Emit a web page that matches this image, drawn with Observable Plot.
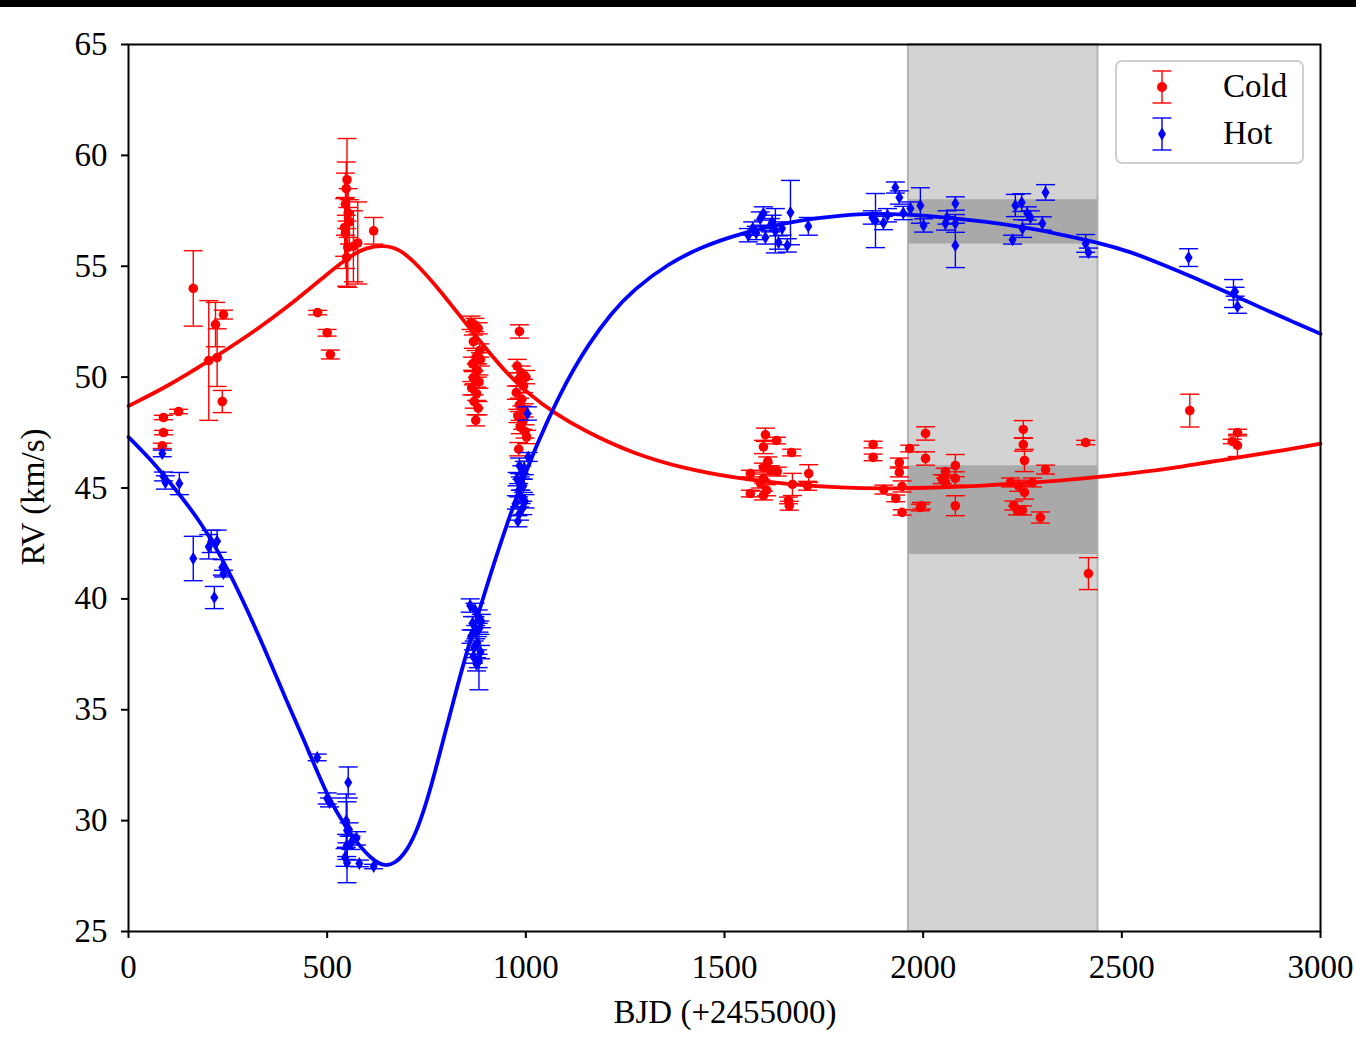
<!DOCTYPE html>
<html>
<head>
<meta charset="utf-8">
<script src="https://cdn.jsdelivr.net/npm/d3@7"></script>
<script src="https://cdn.jsdelivr.net/npm/@observablehq/plot@0.6"></script>
<style>
  html, body { margin: 0; padding: 0; background: #fff; }
  #wrap { position: relative; width: 1356px; height: 1053px; overflow: hidden; font-family: "Liberation Serif", serif; }
  #topbar { position: absolute; left: 0; top: 0; width: 1356px; height: 7px; background: #000; }
  .atitle { position: absolute; font-size: 33px; color: #000; white-space: nowrap; }
  #xtitle { left: 725px; top: 1012px; transform: translate(-50%, -50%); }
  #ytitle { left: 33px; top: 497px; transform: translate(-50%, -50%) rotate(-90deg); }
  #legend { position: absolute; left: 1115px; top: 60px; width: 185px; height: 100px;
            border: 2px solid #cfcfcf; border-radius: 7px; background: rgba(255,255,255,0.85); }
  #legend .lab { position: absolute; left: 106px; font-size: 33px; line-height: 33px; }
</style>
</head>
<body>
<div id="wrap">
  <div id="chart"></div>
  <div id="topbar"></div>
  <div class="atitle" id="xtitle">BJD (+2455000)</div>
  <div class="atitle" id="ytitle">RV (km/s)</div>
  <div id="legend">
    <svg width="185" height="100" style="position:absolute;left:0;top:0">
      <g stroke="#ff0000" stroke-width="1.4">
        <line x1="45" x2="45" y1="9" y2="41"/>
        <line x1="35.5" x2="54.5" y1="9" y2="9"/>
        <line x1="35.5" x2="54.5" y1="41" y2="41"/>
      </g>
      <circle cx="45" cy="25" r="5" fill="#ff0000"/>
      <g stroke="#0000ff" stroke-width="1.4">
        <line x1="45" x2="45" y1="56" y2="88"/>
        <line x1="35.5" x2="54.5" y1="56" y2="56"/>
        <line x1="35.5" x2="54.5" y1="88" y2="88"/>
      </g>
      <path d="M45,65.5L49,72L45,78.5L41,72Z" fill="#0000ff"/>
    </svg>
    <div class="lab" style="top:8px">Cold</div>
    <div class="lab" style="top:55px">Hot</div>
  </div>
</div>
<script>
// Radial-velocity measurements: BJD - 2455000, RV (km/s), 1-sigma error
const coldBjd = [85,88,88,126,163,202,219,223,239,236,
  476,500,508,
  550,548,546,553,556,544,546,552,549,577,566,617,
  862,872,880,868,884,875,866,878,870,882,864,876,870,880,874,886,868,
  984,978,988,982,994,976,990,984,996,980,992,986,998,982,1000,1002,
  1603,1598,1631,1669,1565,1598,1616,1633,1598,1591,1565,1598,1661,1663,1671,1712,1709,1606,1609,
  1874,1874,1901,1931,1947,1940,1940,1966,1947,1993,1996,2006,2006,2056,2056,2081,2081,2081,
  2252,2252,2255,2220,2255,2275,2228,2237,2250,2308,2295,2409,2416,2048,2240,
  2671,2791,2778,2791];
const coldRv = [46.9,47.5,48.18,48.45,54.0,50.75,52.37,50.88,52.82,48.9,
  52.91,52.0,51.02,
  58.9,58.5,57.8,57.4,57.0,56.75,56.5,55.85,55.4,56.05,55.9,56.6,
  52.45,52.35,52.2,51.6,51.2,50.9,50.6,50.3,50.0,49.8,49.5,49.25,48.9,48.6,48.05,50.8,49.95,
  52.06,50.5,50.2,49.9,49.6,49.3,49.0,48.75,48.5,48.25,48.0,47.75,47.55,46.75,50.0,47.3,
  47.4,46.85,47.14,46.6,45.65,45.92,45.8,45.74,45.43,45.2,44.75,44.66,44.44,44.2,45.16,45.65,45.1,44.9,46.2,
  46.96,46.38,44.93,44.53,43.9,46.15,45.7,46.78,45.07,44.12,44.2,47.46,46.33,45.74,45.25,46.01,45.43,44.2,
  47.64,46.96,46.24,45.25,44.8,45.25,44.21,43.99,43.99,45.83,43.67,47.05,41.14,45.4,45.1,
  48.49,47.5,47.1,46.92];
const coldErr = [0.12,0.1,0.1,0.1,1.7,2.7,1.0,1.3,0.2,0.5,
  0.1,0.15,0.2,
  1.86,1.2,1.4,1.1,1.0,1.3,1.6,1.8,1.3,1.85,1.6,0.6,
  0.3,0.3,0.25,0.3,0.3,0.3,0.3,0.3,0.3,0.3,0.3,0.3,0.3,0.3,0.25,0.3,0.3,
  0.3,0.3,0.3,0.3,0.3,0.3,0.3,0.3,0.3,0.3,0.35,0.3,0.3,0.3,0.3,0.3,
  0.3,0.3,0.15,0.15,0.15,0.2,0.2,0.2,0.2,0.2,0.15,0.2,0.15,0.2,0.5,0.4,0.2,0.25,0.2,
  0.15,0.15,0.2,0.15,0.12,0.2,0.2,0.15,0.25,0.15,0.15,0.3,0.3,0.15,0.2,0.5,0.3,0.45,
  0.4,0.3,0.5,0.2,0.3,0.2,0.2,0.2,0.2,0.2,0.25,0.1,0.72,0.2,0.25,
  0.74,0.15,0.1,0.5];

const hotBjd = [85,88,93,128,163,202,208,223,216,236,239,
  475,500,506,553,548,550,574,549,545,550,581,617,560,555,
  860,872,880,866,884,874,862,878,870,886,868,880,876,882,888,
  984,990,978,994,982,988,976,992,984,980,996,1004,1006,986,998,
  1571,1590,1598,1603,1628,1636,1658,1666,1711,1616,1580,1560,1620,1645,
  1880,1872,1930,1940,1968,1993,2001,2056,2060,2081,2081,2081,1910,1950,1900,
  2232,2248,2262,2250,2225,2308,2300,2270,2409,2416,
  2668,2781,2791,2785];
const hotRv = [46.56,45.52,45.25,45.2,41.82,42.35,42.59,42.6,40.06,41.42,41.14,
  32.85,31.0,30.82,31.72,30.0,29.55,29.2,28.88,28.34,28.1,28.07,27.93,29.0,29.6,
  39.7,39.5,39.2,38.9,38.7,38.5,38.3,38.0,37.8,37.6,37.4,37.2,37.05,37.2,39.0,
  46.0,45.7,45.4,45.1,44.9,44.6,44.35,44.1,43.85,43.5,45.9,48.36,46.4,45.2,44.4,
  56.7,57.15,57.38,56.3,56.6,56.07,55.94,57.42,56.8,56.85,56.5,56.4,57.0,56.7,
  57.06,57.2,58.55,58.1,57.6,57.74,56.84,56.93,57.2,57.83,56.93,55.94,57.3,57.4,56.95,
  57.74,57.87,57.38,56.7,56.2,58.33,56.93,57.2,56.03,55.62,
  55.39,53.77,53.18,53.85];
const hotErr = [0.15,0.2,0.3,0.5,1.0,0.55,0.5,0.5,0.5,0.35,0.15,
  0.15,0.25,0.2,0.7,1.2,1.3,0.3,0.5,0.4,0.9,0.15,0.1,0.3,0.3,
  0.3,0.3,0.3,0.3,0.3,0.3,0.3,0.3,0.3,0.3,0.3,0.3,0.3,1.3,0.3,
  0.35,0.3,0.3,0.3,0.3,0.3,0.3,0.3,0.3,0.25,0.3,0.3,0.2,0.3,0.3,
  0.3,0.3,0.3,0.3,1.0,0.3,0.3,1.45,0.4,0.3,0.3,0.3,0.3,0.3,
  1.22,0.3,0.25,0.3,0.3,0.8,0.3,0.3,0.3,0.3,0.4,1.0,0.3,0.3,0.3,
  0.5,0.4,0.3,0.4,0.2,0.35,0.3,0.3,0.4,0.2,
  0.4,0.63,0.3,0.2];

// Orbital solutions for the two components
const coldFitBjd = [0,100,200,300,400,500,560,600,640,680,720,780,830,890,950,1010,1070,1150,1270,1400,1520,1650,1800,1900,2000,2150,2300,2400,2520,2650,2780,2900,3000];
const coldFitRv  = [48.7,49.6,50.7,51.85,53.15,54.65,55.5,55.85,55.95,55.8,55.2,54.0,52.85,51.5,50.2,49.2,48.4,47.55,46.55,45.87,45.47,45.18,45.0,44.97,45.0,45.1,45.27,45.42,45.65,45.95,46.35,46.68,47.0];
const hotFitBjd = [0,50,100,180,250,330,400,450,500,550,580,610,642,670,700,730,760,790,818,843,893,954,1012,1050,1087,1120,1155,1213,1271,1357,1440,1520,1600,1700,1800,1870,1950,2070,2160,2240,2330,2446,2522,2600,2680,2781,2866,2930,3000];
const hotFitRv  = [47.3,46.4,45.35,43.55,41.4,38.3,35.3,33.3,31.1,29.6,28.9,28.3,27.93,28.05,28.6,29.7,31.4,33.5,35.4,37.1,40.1,43.5,46.3,47.85,49.25,50.35,51.4,52.85,53.95,55.1,55.85,56.35,56.75,57.1,57.3,57.38,57.35,57.18,57.0,56.8,56.5,56.05,55.65,55.1,54.5,53.7,53.0,52.5,51.95];

// Highlighted interval and the RV windows inside it
const bandBjd = [1963, 2440];
const hotWindow = [56, 58];
const coldWindow = [42, 46];

const xTicks = [0, 500, 1000, 1500, 2000, 2500, 3000];
const yTicks = [25, 30, 35, 40, 45, 50, 55, 60, 65];

const RED = "#ff0000", BLUE = "#0000ff";

const cold = coldBjd.map((x, i) => ({bjd: x, rv: coldRv[i], err: coldErr[i]}));
const hot = hotBjd.map((x, i) => ({bjd: x, rv: hotRv[i], err: hotErr[i]}));
const coldFit = coldFitBjd.map((x, i) => ({bjd: x, rv: coldFitRv[i]}));
const hotFit = hotFitBjd.map((x, i) => ({bjd: x, rv: hotFitRv[i]}));
const windows = [
  {x1: bandBjd[0], x2: bandBjd[1], y1: hotWindow[0], y2: hotWindow[1]},
  {x1: bandBjd[0], x2: bandBjd[1], y1: coldWindow[0], y2: coldWindow[1]}
];

// Horizontal cap for error bars (half-width equals r)
const capSymbol = {
  draw(ctx, size) {
    const w = Math.sqrt(size / Math.PI);
    ctx.moveTo(-w, 0); ctx.lineTo(w, 0);
  }
};
// Thin diamond marker
const thinDiamond = {
  draw(ctx, size) {
    const r = Math.sqrt(size / Math.PI);
    ctx.moveTo(0, -r); ctx.lineTo(r * 0.62, 0); ctx.lineTo(0, r); ctx.lineTo(-r * 0.62, 0); ctx.closePath();
  }
};

function errorMarks(data, color) {
  return [
    Plot.ruleX(data, {x: "bjd", y1: d => d.rv - d.err, y2: d => d.rv + d.err, stroke: color, strokeWidth: 1.4}),
    Plot.dot(data, {x: "bjd", y: d => d.rv - d.err, symbol: capSymbol, r: 9.5, stroke: color, strokeWidth: 1.4, fill: "none"}),
    Plot.dot(data, {x: "bjd", y: d => d.rv + d.err, symbol: capSymbol, r: 9.5, stroke: color, strokeWidth: 1.4, fill: "none"})
  ];
}

const chart = Plot.plot({
  width: 1356,
  height: 1053,
  marginLeft: 128,
  marginRight: 36,
  marginTop: 44,
  marginBottom: 122,
  style: {fontFamily: "Liberation Serif, serif", fontSize: "33px", background: "transparent", color: "#000"},
  x: {domain: [0, 3000]},
  y: {domain: [25, 65]},
  marks: [
    Plot.rect([{x1: bandBjd[0], x2: bandBjd[1]}], {x1: "x1", x2: "x2", fill: "#d3d3d3", stroke: "#b4b4b4", strokeWidth: 2}),
    Plot.rect(windows, {x1: "x1", x2: "x2", y1: "y1", y2: "y2", fill: "#a9a9a9"}),
    ...errorMarks(cold, RED),
    Plot.dot(cold, {x: "bjd", y: "rv", r: 4.8, fill: RED}),
    ...errorMarks(hot, BLUE),
    Plot.dot(hot, {x: "bjd", y: "rv", symbol: thinDiamond, r: 6.5, fill: BLUE}),
    Plot.line(coldFit, {x: "bjd", y: "rv", stroke: RED, strokeWidth: 3.8, curve: "basis"}),
    Plot.line(hotFit, {x: "bjd", y: "rv", stroke: BLUE, strokeWidth: 3.8, curve: "basis"}),
    Plot.frame({stroke: "#000", strokeWidth: 2}),
    Plot.axisX({ticks: xTicks, tickFormat: d3.format("d"), tickSize: 7, tickPadding: 16, strokeWidth: 2, label: null, fill: "#000"}),
    Plot.axisY({ticks: yTicks, tickFormat: d3.format("d"), tickSize: 7, tickPadding: 14, strokeWidth: 2, label: null, fill: "#000"})
  ]
});
document.getElementById("chart").appendChild(chart);
</script>
</body>
</html>
